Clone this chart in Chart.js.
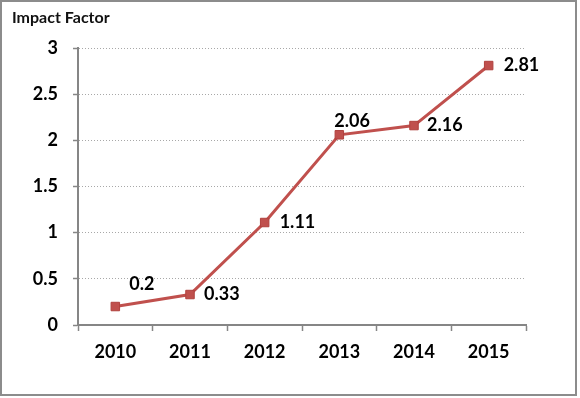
<!DOCTYPE html>
<html><head><meta charset="utf-8">
<script src="https://cdn.jsdelivr.net/npm/chart.js@4/dist/chart.umd.min.js"></script>
<style>
html,body{margin:0;padding:0;background:#fff;}
canvas{display:block}
</style></head><body>
<canvas id="c" width="580" height="398"></canvas>
<script>
// ---- data ----
const years = ['2010', '2011', '2012', '2013', '2014', '2015'];
const impactFactor = [0.2, 0.33, 1.11, 2.06, 2.16, 2.81];
const yTicks = [0, 0.5, 1, 1.5, 2, 2.5, 3];
const yTickLabels = ['0', '0.5', '1', '1.5', '2', '2.5', '3'];

const FONT = 'Lato, "Open Sans", sans-serif';
const RED = '#C0504D';

const frame = {
  id: 'frame',
  beforeDraw(chart) {
    const ctx = chart.ctx;
    ctx.save();
    ctx.fillStyle = '#fff';
    ctx.fillRect(0, 0, chart.width, chart.height);
    ctx.strokeStyle = '#8c8c8c';
    ctx.lineWidth = 2;
    ctx.strokeRect(1, 1, 575, 394);
    ctx.restore();
  }
};

const valueLabels = {
  id: 'valueLabels',
  afterDatasetsDraw(chart, args, opts) {
    const ctx = chart.ctx;
    const meta = chart.getDatasetMeta(0);
    const data = chart.data.datasets[0].data;
    ctx.save();
    ctx.font = opts.font;
    ctx.fillStyle = opts.color;
    ctx.textAlign = 'left';
    ctx.textBaseline = 'middle';
    meta.data.forEach((pt, i) => {
      const off = opts.offsets[i];
      ctx.fillText(String(data[i]), pt.x + off[0], pt.y + off[1]);
    });
    ctx.restore();
  }
};

new Chart(document.getElementById('c'), {
  type: 'line',
  data: {
    labels: years,
    datasets: [{
      data: impactFactor,
      borderColor: RED,
      borderWidth: 3,
      backgroundColor: RED,
      pointStyle: 'rect',
      pointRadius: 6,
      pointBorderColor: '#B0403D',
      pointBorderWidth: 1,
      tension: 0
    }]
  },
  options: {
    responsive: false,
    animation: false,
    layout: { padding: { left: 12, right: 54, top: 0, bottom: 0 } },
    plugins: {
      legend: { display: false },
      tooltip: { enabled: false },
      title: {
        display: true,
        text: 'Impact Factor',
        align: 'start',
        color: '#111',
        font: { family: FONT, size: 16, weight: 'bold' },
        padding: { top: 8, bottom: 20.8 }
      },
      valueLabels: {
        font: 'bold 18px ' + FONT,
        color: '#000',
        offsets: [[14, -22], [14, 0], [15, 0], [-5, -14], [13, 0], [15, 0]]
      }
    },
    scales: {
      x: {
        offset: true,
        grid: {
          display: true,
          drawOnChartArea: false,
          offset: true,
          tickLength: 6,
          tickColor: '#868686',
          tickWidth: 1.5
        },
        border: { display: true, color: '#868686', width: 2 },
        ticks: {
          color: '#000',
          font: { family: FONT, size: 18, weight: 'bold' },
          padding: 10,
          maxRotation: 0
        },
        afterFit(scale) { scale.height = 73; }
      },
      y: {
        min: 0,
        max: 3,
        afterBuildTicks(scale) { scale.ticks = yTicks.map(v => ({ value: v })); },
        grid: {
          color: '#a8a8a8',
          lineWidth: 1,
          tickLength: 5,
          tickColor: '#868686',
          tickWidth: 1.5,
          tickBorderDash: []
        },
        border: { display: true, color: '#868686', width: 2, dash: [1, 2] },
        ticks: {
          color: '#000',
          font: { family: FONT, size: 18, weight: 'bold' },
          padding: 15,
          callback(value, index) { return yTickLabels[index]; }
        },
        afterFit(scale) { scale.width = 66; }
      }
    }
  },
  plugins: [frame, valueLabels]
});
</script>
</body></html>
